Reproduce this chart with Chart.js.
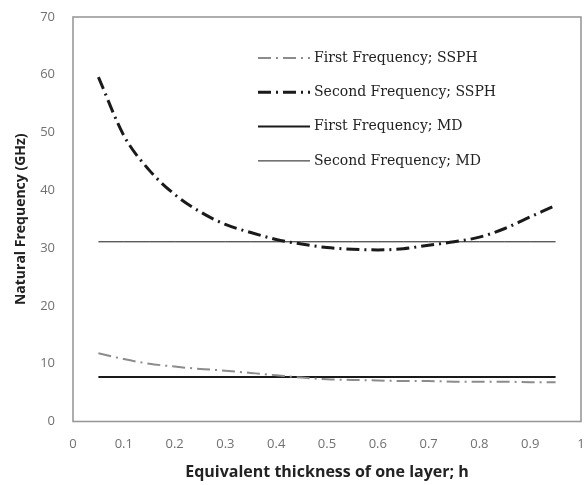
<!DOCTYPE html>
<html>
<head>
<meta charset="utf-8">
<script src="https://cdn.jsdelivr.net/npm/chart.js@4/dist/chart.umd.min.js"></script>
<style>
  body { margin: 0; background: #fff; }
  #wrap { width: 586px; height: 485px; }
</style>
</head>
<body>
<div id="wrap"><canvas id="freqChart" width="586" height="485"></canvas></div>
<script>
// thickness h
var hValues = [0.05, 0.1, 0.15, 0.2, 0.25, 0.3, 0.35, 0.4, 0.45, 0.5, 0.55, 0.6, 0.65, 0.7, 0.75, 0.8, 0.85, 0.9, 0.95];
// frequencies (GHz)
var firstSSPH  = [11.8, 10.8, 10.0, 9.5, 9.1, 8.8, 8.4, 8.0, 7.6, 7.3, 7.2, 7.1, 7.0, 7.0, 6.9, 6.9, 6.9, 6.8, 6.8];
var secondSSPH = [59.6, 49.5, 43.5, 39.3, 36.3, 34.1, 32.7, 31.5, 30.7, 30.1, 29.8, 29.7, 29.9, 30.5, 31.1, 31.9, 33.4, 35.4, 37.4];
var firstMD    = [7.7, 7.7, 7.7, 7.7, 7.7, 7.7, 7.7, 7.7, 7.7, 7.7, 7.7, 7.7, 7.7, 7.7, 7.7, 7.7, 7.7, 7.7, 7.7];
var secondMD   = [31.1, 31.1, 31.1, 31.1, 31.1, 31.1, 31.1, 31.1, 31.1, 31.1, 31.1, 31.1, 31.1, 31.1, 31.1, 31.1, 31.1, 31.1, 31.1];
var seriesNames = ["First Frequency; SSPH", "Second Frequency; SSPH", "First Frequency; MD", "Second Frequency; MD"];
var xTicks = [0, 0.1, 0.2, 0.3, 0.4, 0.5, 0.6, 0.7, 0.8, 0.9, 1];
var yTicks = [0, 10, 20, 30, 40, 50, 60, 70];

function toPoints(arr) {
    return hValues.map(function (h, i) { return { x: h, y: arr[i] }; });
}

var dashDot = [13, 5, 2, 5];

/*frame around plot area*/
var framePlugin = {
    id: 'frame',
    beforeDatasetsDraw: function (chart) {
        var a = chart.chartArea, ctx = chart.ctx;
        ctx.save();
        ctx.strokeStyle = '#999';
        ctx.lineWidth = 1.6;
        ctx.strokeRect(a.left, a.top, a.right - a.left, a.bottom - a.top);
        ctx.restore();
    }
};

/*legend inside plot*/
var legendPlugin = {
    id: 'inLegend',
    afterDraw: function (chart) {
        var a = chart.chartArea, ctx = chart.ctx;
        var x0 = a.left + 185, y0 = a.top + 41, rowH = 34.3;
        ctx.save();
        chart.data.datasets.forEach(function (ds, i) {
            var y = y0 + i * rowH;
            ctx.beginPath();
            ctx.setLineDash(ds.borderDash || []);
            ctx.lineWidth = ds.borderWidth;
            ctx.strokeStyle = ds.borderColor;
            ctx.moveTo(x0, y);
            ctx.lineTo(x0 + 52, y);
            ctx.stroke();
            ctx.setLineDash([]);
            ctx.fillStyle = '#222';
            ctx.font = '14px "DejaVu Serif", serif';
            ctx.textBaseline = 'middle';
            ctx.fillText(ds.label, x0 + 56, y);
        });
        ctx.restore();
    }
};

var ctx = document.getElementById('freqChart');
var myChart = new Chart(ctx, {
    type: 'line',
    data: {
        datasets: [
            {
                label: seriesNames[0],
                data: toPoints(firstSSPH),
                borderColor: '#8c8c8c',
                borderWidth: 2,
                borderDash: dashDot,
                pointRadius: 0,
                cubicInterpolationMode: 'monotone'
            },
            {
                label: seriesNames[1],
                data: toPoints(secondSSPH),
                borderColor: '#1a1a1a',
                borderWidth: 3,
                borderDash: dashDot,
                pointRadius: 0,
                cubicInterpolationMode: 'monotone'
            },
            {
                label: seriesNames[2],
                data: toPoints(firstMD),
                borderColor: '#1a1a1a',
                borderWidth: 2,
                pointRadius: 0
            },
            {
                label: seriesNames[3],
                data: toPoints(secondMD),
                borderColor: '#1a1a1a',
                borderWidth: 1,
                pointRadius: 0
            }
        ]
    },
    options: {
        responsive: false,
        animation: false,
        layout: { padding: { top: 17, right: 5, left: 0, bottom: 0 } },
        plugins: {
            legend: { display: false },
            tooltip: { enabled: false }
        },
        scales: {
            x: {
                type: 'linear',
                min: 0,
                max: 1,
                afterBuildTicks: function (scale) {
                    scale.ticks = xTicks.map(function (v) { return { value: v }; });
                },
                afterFit: function (scale) {
                    scale.height = 63.5;
                    scale.paddingLeft = 0;
                    scale.paddingRight = 0;
                },
                grid: { display: false, drawTicks: false },
                border: { display: false },
                ticks: {
                    padding: 15,
                    color: '#707070',
                    maxRotation: 0,
                    font: { family: '"Open Sans", sans-serif', size: 13 },
                    callback: function (v) { return String(v); }
                },
                title: {
                    display: true,
                    text: 'Equivalent thickness of one layer; h',
                    color: '#222',
                    font: { family: '"Open Sans", sans-serif', size: 16, weight: 'bold' },
                    padding: { top: 0, bottom: 3 }
                }
            },
            y: {
                min: 0,
                max: 70,
                afterBuildTicks: function (scale) {
                    scale.ticks = yTicks.map(function (v) { return { value: v }; });
                },
                afterFit: function (scale) {
                    scale.width = 73;
                    scale.paddingTop = 0;
                    scale.paddingBottom = 0;
                },
                grid: { display: false, drawTicks: false },
                border: { display: false },
                ticks: {
                    padding: 18,
                    color: '#707070',
                    font: { family: '"Open Sans", sans-serif', size: 13 }
                },
                title: {
                    display: true,
                    text: 'Natural Frequency (GHz)',
                    color: '#222',
                    font: { family: '"Open Sans", sans-serif', size: 14, weight: 'bold' },
                    padding: { top: 13, bottom: 0 }
                }
            }
        }
    },
    plugins: [framePlugin, legendPlugin]
});
</script>
</body>
</html>
